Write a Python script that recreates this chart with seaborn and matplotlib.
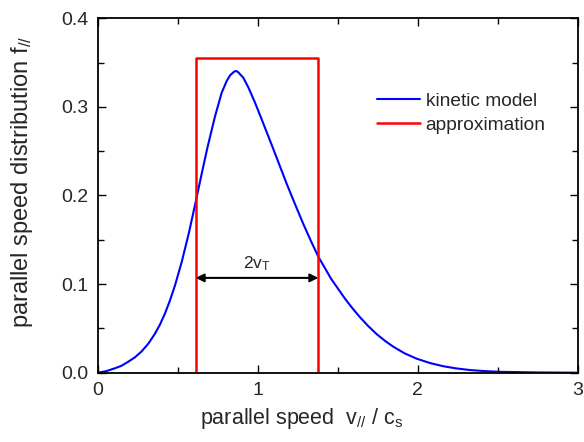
import numpy as np
import pandas as pd
import matplotlib
matplotlib.use("Agg")
import matplotlib.pyplot as plt
import seaborn as sns
from matplotlib.ticker import MultipleLocator, FormatStrFormatter

# ---- data ----
v_kin = [0.0, 0.05, 0.109, 0.15, 0.193, 0.235, 0.276, 0.318, 0.359, 0.39,
         0.422, 0.453, 0.484, 0.526, 0.57, 0.614, 0.65, 0.687, 0.734, 0.776,
         0.807, 0.828, 0.855, 0.868, 0.88, 0.911, 0.943, 0.984, 1.026, 1.089,
         1.136, 1.183, 1.235, 1.286, 1.333, 1.38, 1.46, 1.547, 1.59, 1.641,
         1.69, 1.745, 1.80, 1.849, 1.92, 1.995, 2.08, 2.161, 2.24, 2.328,
         2.42, 2.516, 2.75, 3.0]
f_kin = [0.0, 0.0015, 0.005, 0.0078, 0.0125, 0.0175, 0.0241, 0.0329, 0.044, 0.0542,
         0.067, 0.0816, 0.0983, 0.1248, 0.1569, 0.193, 0.2236, 0.254, 0.289, 0.316,
         0.329, 0.3355, 0.340, 0.3405, 0.339, 0.333, 0.322, 0.305, 0.286, 0.257,
         0.235, 0.213, 0.190, 0.168, 0.149, 0.131, 0.106, 0.0835, 0.0735, 0.0625,
         0.053, 0.0435, 0.0355, 0.0293, 0.0218, 0.0158, 0.0108, 0.0073, 0.0049, 0.003,
         0.0018, 0.001, 0.0003, 0.0]
v_rect = [0.614, 0.614, 1.38, 1.38]
f_rect = [0.0, 0.355, 0.355, 0.0]
arrow_y = 0.107
arrow_label = r"2v$_{\mathrm{T}}$"
labels = ["kinetic model", "approximation"]

sns.set_style("ticks")
plt.rcParams["font.family"] = ["Liberation Sans", "DejaVu Sans"]
plt.rcParams["mathtext.fontset"] = "custom"
plt.rcParams["mathtext.rm"] = "Liberation Sans"
plt.rcParams["mathtext.it"] = "Liberation Sans:italic"
plt.rcParams["mathtext.default"] = "regular"

df_kin = pd.DataFrame({"v": v_kin, "f": f_kin})
df_rect = pd.DataFrame({"v": v_rect, "f": f_rect})

fig = plt.figure(figsize=(5.84, 4.42), dpi=100)
ax = fig.add_axes([97.5 / 584, (442 - 372.7) / 442, 480 / 584, (372.7 - 18.3) / 442])

sns.lineplot(data=df_kin, x="v", y="f", ax=ax, color=(0, 0, 1), lw=1.5,
             sort=False, estimator=None, label=labels[0])
sns.lineplot(data=df_rect, x="v", y="f", ax=ax, color=(1, 0, 0), lw=1.8,
             sort=False, estimator=None, label=labels[1])

ax.annotate("", xy=(v_rect[0], arrow_y), xytext=(v_rect[2], arrow_y),
            arrowprops=dict(arrowstyle="<|-|>", color="black", lw=1.5,
                            shrinkA=0, shrinkB=0, mutation_scale=12))
ax.text((v_rect[0] + v_rect[2]) / 2, arrow_y + 0.006, arrow_label,
        ha="center", va="bottom", fontsize=12.5)

ax.set_xlim(0, 3)
ax.set_ylim(0, 0.4)
ax.xaxis.set_major_locator(MultipleLocator(1))
ax.xaxis.set_minor_locator(MultipleLocator(0.5))
ax.yaxis.set_major_locator(MultipleLocator(0.1))
ax.yaxis.set_minor_locator(MultipleLocator(0.05))
ax.xaxis.set_major_formatter(FormatStrFormatter("%d"))
ax.yaxis.set_major_formatter(FormatStrFormatter("%.1f"))

ax.tick_params(which="both", direction="in", top=True, right=True,
               color="black", width=1.0)
ax.tick_params(which="major", length=6, labelsize=14)
ax.tick_params(axis="y", which="major", pad=6.5)
ax.tick_params(axis="x", which="major", pad=7)
ax.tick_params(which="minor", length=4)
for s in ax.spines.values():
    s.set_visible(True)
    s.set_linewidth(1.3)
    s.set_color("black")

ax.set_xlabel(r"parallel speed  v$_{//}$ / c$_s$", fontsize=15.5)
ax.set_ylabel(r"parallel speed distribution f$_{//}$", fontsize=17)
ax.xaxis.set_label_coords(0.426, -0.095)
ax.yaxis.set_label_coords(-0.13, 0.54)

leg = ax.legend(loc="upper left", bbox_to_anchor=(0.582, 0.79), frameon=False,
                fontsize=13.75, handlelength=2.25, handletextpad=0.3,
                labelspacing=0.34, borderaxespad=0, borderpad=0)

fig.savefig("out.png", dpi=100)
